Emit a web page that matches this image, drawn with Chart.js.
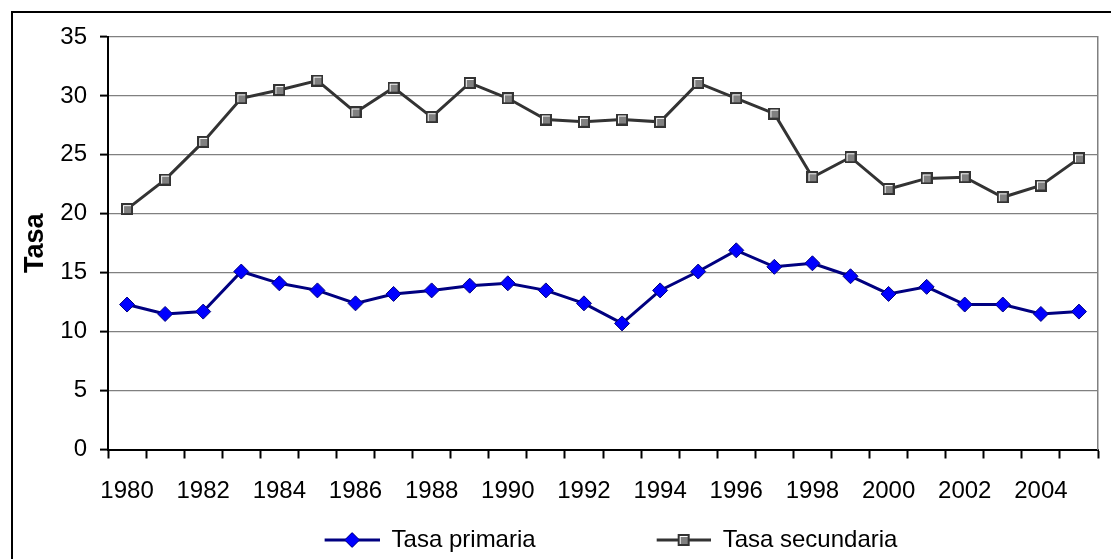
<!DOCTYPE html>
<html>
<head>
<meta charset="utf-8">
<script src="https://cdn.jsdelivr.net/npm/chart.js@4.4.1/dist/chart.umd.min.js"></script>
<style>
  html, body { margin: 0; padding: 0; background: #fff; overflow: hidden; }
  #frame { position: absolute; left: 11px; top: 11px; width: 1200px; height: 700px; border: 2px solid #000; pointer-events: none; }
  #chart { position: absolute; left: 0; top: 0; }
</style>
</head>
<body>
<canvas id="chart" width="1111" height="559"></canvas>
<div id="frame"></div>
<script>
const years = ['1980', '1981', '1982', '1983', '1984', '1985', '1986', '1987', '1988', '1989',
  '1990', '1991', '1992', '1993', '1994', '1995', '1996', '1997', '1998', '1999',
  '2000', '2001', '2002', '2003', '2004', '2005']
const tasaPrimaria = [12.3, 11.5, 11.7, 15.1, 14.1, 13.5, 12.4, 13.2, 13.5, 13.9,
  14.1, 13.5, 12.4, 10.7, 13.5, 15.1, 16.9, 15.5, 15.8, 14.7,
  13.2, 13.8, 12.3, 12.3, 11.5, 11.7]
const tasaSecundaria = [20.4, 22.9, 26.1, 29.8, 30.5, 31.3, 28.6, 30.7, 28.2, 31.1,
  29.8, 28.0, 27.8, 28.0, 27.8, 31.1, 29.8, 28.5, 23.1, 24.8,
  22.1, 23.0, 23.1, 21.4, 22.4, 24.7]
const yMin = 0
const yMax = 35
const yStep = 5

Chart.defaults.font.family = "'Liberation Sans', Arial, sans-serif"
Chart.defaults.color = '#000'

// gray square with a light inner edge, like the original marker
function squareMarker() {
  const c = document.createElement('canvas')
  c.width = 12
  c.height = 12
  const g = c.getContext('2d')
  g.fillStyle = '#333333'
  g.fillRect(0, 0, 12, 12)
  g.fillStyle = '#ffffff'
  g.fillRect(2, 2, 8, 8)
  g.fillStyle = '#808080'
  g.fillRect(3, 3, 7, 7)
  return c
}

function drawDiamond(g, x, y) {
  g.beginPath()
  g.moveTo(x, y - 7.5)
  g.lineTo(x + 7.5, y)
  g.lineTo(x, y + 7.5)
  g.lineTo(x - 7.5, y)
  g.closePath()
  g.fillStyle = '#0000ff'
  g.fill()
  g.strokeStyle = '#000080'
  g.lineWidth = 1
  g.stroke()
}

const legendBoxWidth = 165
function legendIcon(lineLen, lineColor, marker) {
  const c = document.createElement('canvas')
  c.width = legendBoxWidth
  c.height = 16
  const g = c.getContext('2d')
  const x0 = legendBoxWidth - lineLen
  g.strokeStyle = lineColor
  g.lineWidth = 3
  g.beginPath()
  g.moveTo(x0, 8)
  g.lineTo(legendBoxWidth, 8)
  g.stroke()
  marker(g, x0 + lineLen / 2, 8)
  return c
}

const sq = squareMarker()
const legendIcons = [
  legendIcon(55, '#000080', drawDiamond),
  legendIcon(54, '#333333', (g, x, y) => g.drawImage(sq, x - 6, y - 6)),
]

new Chart(document.getElementById('chart'), {
  type: 'line',
  data: {
    labels: years,
    datasets: [
      {
        label: 'Tasa primaria',
        data: tasaPrimaria,
        borderColor: '#000080',
        borderWidth: 3,
        pointStyle: 'rectRot',
        pointRadius: 7.5,
        pointBackgroundColor: '#0000ff',
        pointBorderColor: '#000080',
        pointBorderWidth: 1,
        tension: 0,
      },
      {
        label: 'Tasa secundaria',
        data: tasaSecundaria,
        borderColor: '#333333',
        borderWidth: 3,
        pointStyle: sq,
        pointRadius: 6,
        tension: 0,
      },
    ],
  },
  options: {
    responsive: false,
    animation: false,
    layout: { padding: { left: 14, top: 37, right: 13, bottom: -3 } },
    plugins: {
      tooltip: { enabled: false },
      legend: {
        position: 'bottom',
        labels: {
          usePointStyle: true,
          pointStyleWidth: legendBoxWidth,
          padding: 10,
          font: { size: 24 },
          color: '#000',
          generateLabels(chart) {
            const items = Chart.defaults.plugins.legend.labels.generateLabels(chart)
            items.forEach((it, i) => { it.pointStyle = legendIcons[i] })
            return items
          },
        },
      },
    },
    scales: {
      x: {
        offset: true,
        grid: {
          offset: true,
          drawOnChartArea: false,
          tickColor: '#000',
          tickLength: 9,
          tickWidth: 2,
        },
        border: { color: '#000', width: 2 },
        ticks: {
          autoSkip: false,
          maxRotation: 0,
          padding: 18,
          font: { size: 24 },
          color: '#000',
          callback(val, i) {
            return i % 2 === 0 ? this.getLabelForValue(val) : ''
          },
        },
        afterFit(s) { s.height = 68.5 },
      },
      y: {
        min: yMin,
        max: yMax,
        ticks: { stepSize: yStep, padding: 13, font: { size: 24 }, color: '#000' },
        grid: {
          color: (c) => (c.tick && c.tick.value === 0 ? 'rgba(0,0,0,0)' : '#808080'),
          lineWidth: 1.2,
          tickColor: '#000',
          tickLength: 8,
          tickWidth: 2,
        },
        border: { color: '#000', width: 2 },
        title: {
          display: true,
          text: 'Tasa',
          font: { size: 27, weight: 'bold' },
          color: '#000',
          padding: { top: 5, bottom: 0 },
        },
        afterFit(s) { s.width = 94 },
      },
      y2: {
        position: 'right',
        min: yMin,
        max: yMax,
        ticks: { display: false },
        grid: { drawOnChartArea: false, drawTicks: false },
        border: { color: '#808080', width: 1.5 },
        afterFit(s) { s.width = 0 },
      },
    },
  },
})
</script>
</body>
</html>
